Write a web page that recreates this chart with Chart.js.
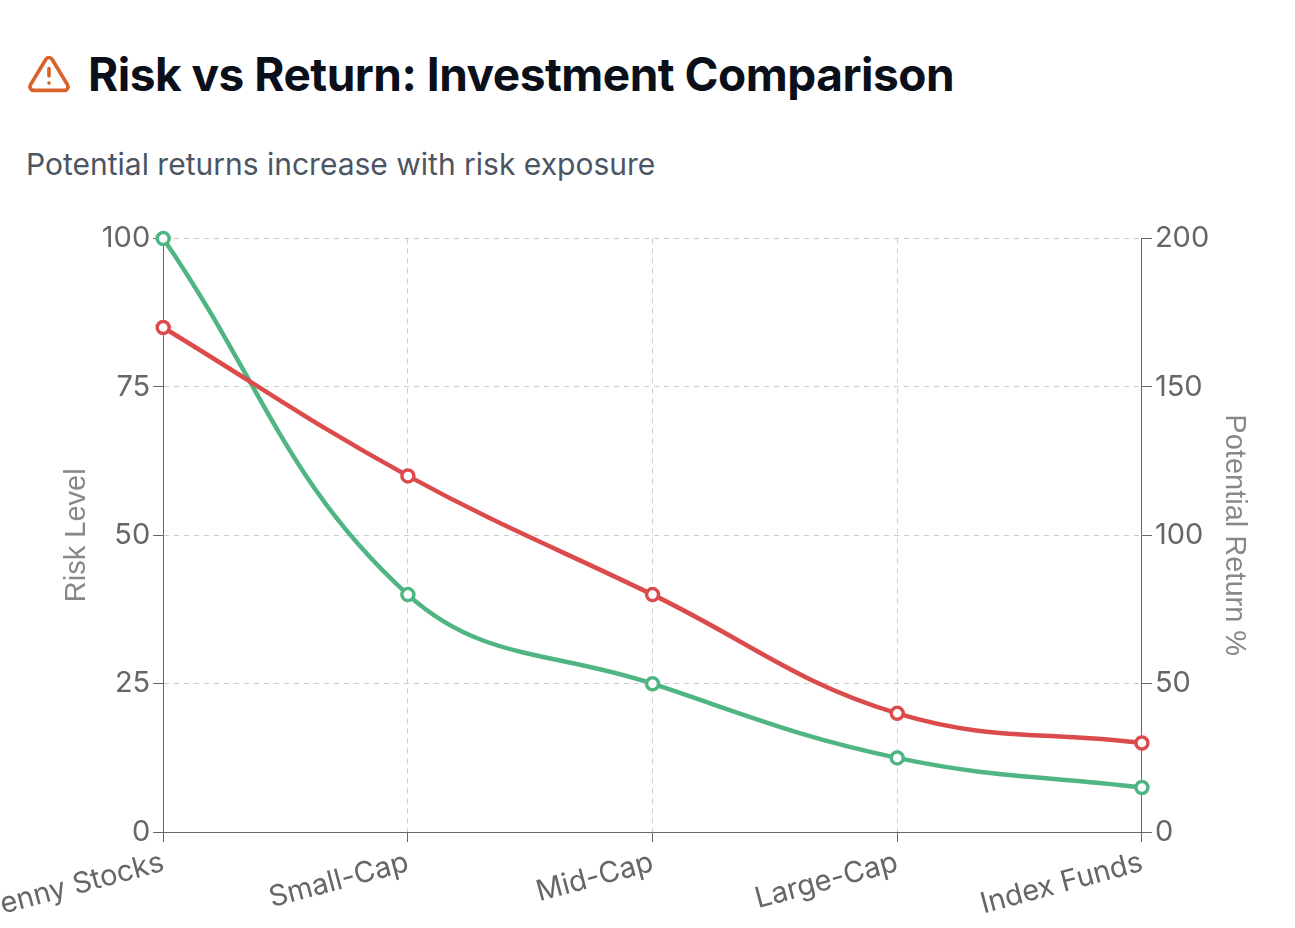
<!DOCTYPE html>
<html>
<head>
<meta charset="utf-8">
<script src="https://cdn.jsdelivr.net/npm/chart.js@4"></script>
<style>
  body { margin: 0; background: #fff; font-family: Inter, "Noto Sans", sans-serif; overflow: hidden; }
  .wrap { padding: 46px 0 0 26px; width: 1245px; }
  h1 { margin: 0; font-size: 46px; font-weight: 700; color: #0b0f1a; display: flex; align-items: center; gap: 16px; letter-spacing: -0.5px; }
  p { margin: 44px 0 0 0; font-size: 30px; color: #4b5563; }
  .box { position: relative; height: 712px; width: 1315px; margin-top: 36px; margin-left: -20px; }
</style>
</head>
<body>
<div class="wrap">
  <h1><svg width="46" height="40" viewBox="0 0 24 22" fill="none" stroke="#d9622b" stroke-width="2" stroke-linecap="round" stroke-linejoin="round"><path d="M10.3 2.9 1.8 17a2 2 0 0 0 1.7 3h17a2 2 0 0 0 1.7-3L13.7 2.9a2 2 0 0 0-3.4 0z"/><line x1="12" y1="8" x2="12" y2="12"/><line x1="12" y1="16" x2="12.01" y2="16"/></svg>Risk vs Return: Investment Comparison</h1>
  <p>Potential returns increase with risk exposure</p>
</div>
<div class="box"><canvas id="chart"></canvas></div>
<script>
const categories = ["Penny Stocks", "Small-Cap", "Mid-Cap", "Large-Cap", "Index Funds"];
const riskLevel = [85, 60, 40, 20, 15];
const potentialReturn = [200, 80, 50, 25, 15];

const tickFont = { size: 29, family: "Inter, sans-serif" };
new Chart(document.getElementById("chart"), {
    type: "line",
    data: {
        labels: categories,
        datasets: [
            {
                label: "Risk Level",
                data: riskLevel,
                borderColor: "#dc4b4b",
                backgroundColor: "#fff",
                borderWidth: 4.5,
                pointRadius: 6,
                pointBorderWidth: 3.5,
                tension: 0.4,
                clip: false,
                yAxisID: "y",
            },
            {
                label: "Potential Return %",
                data: potentialReturn,
                borderColor: "#4fb582",
                backgroundColor: "#fff",
                borderWidth: 4.5,
                pointRadius: 6,
                pointBorderWidth: 3.5,
                tension: 0.4,
                clip: false,
                yAxisID: "y1",
            },
        ],
    },
    options: {
        maintainAspectRatio: false,
        animation: false,
        layout: { padding: { left: 6, right: 40, top: 10 } },
        plugins: { legend: { display: false }, tooltip: { enabled: false } },
        scales: {
            x: {
                offset: false,
                ticks: { font: tickFont, color: "#666", maxRotation: 15, minRotation: 15 },
                grid: { color: "#ccc", borderDash: [5, 5], tickColor: "#666", tickLength: 10 },
                border: { color: "#666", dash: [5, 5] },
            },
            y: {
                min: 0, max: 100,
                ticks: { stepSize: 25, font: tickFont, color: "#666" },
                title: { display: true, text: "Risk Level", font: { size: 29 }, color: "#888" },
                grid: { color: "#ccc", tickColor: "#666", tickLength: 10 },
                border: { color: "#666", dash: [5, 5] },
            },
            y1: {
                position: "right",
                min: 0, max: 200,
                ticks: { stepSize: 50, font: tickFont, color: "#666" },
                title: { display: true, text: "Potential Return %", font: { size: 29 }, color: "#888" },
                grid: { drawOnChartArea: false, tickColor: "#666", tickLength: 10 },
                border: { color: "#666" },
            },
        },
    },
});
</script>
</body>
</html>
